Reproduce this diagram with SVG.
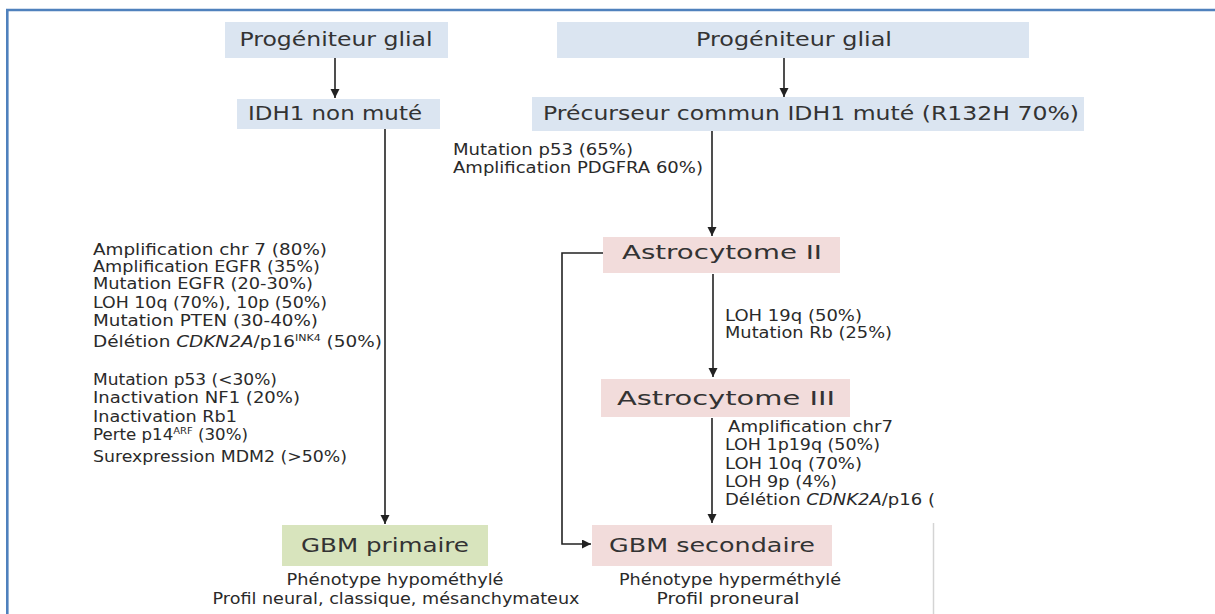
<svg xmlns="http://www.w3.org/2000/svg" width="1215" height="614" viewBox="0 0 1215 614">
<style>
.title{font-family:"DejaVu Sans","Liberation Sans",sans-serif;font-size:19px;fill:#333333;text-anchor:middle}
.small{font-family:"DejaVu Sans","Liberation Sans",sans-serif;font-size:15px;fill:#2a2a2a}
.mid{text-anchor:middle}
.blue{fill:#dbe5f1}
.pink{fill:#f2dcdb}
.green{fill:#d8e4bd}
.conn{stroke:#222;stroke-width:1.6;fill:none}
.frame{stroke:#4f81bd;stroke-width:2.6;fill:none}
</style>
<defs>
<marker id="ah" markerUnits="userSpaceOnUse" markerWidth="10" markerHeight="10" refX="9" refY="4.5" orient="auto">
<path d="M0,0 L9,4.5 L0,9 z" fill="#222"/>
</marker>
</defs>
<rect width="1215" height="614" fill="#ffffff"/>
<g id="frame">
<line class="frame" x1="6" y1="10" x2="1215" y2="10"/>
<line class="frame" x1="7.3" y1="9" x2="7.3" y2="614"/>
<line x1="933.5" y1="523" x2="933.5" y2="614" stroke="#d4d4d4" stroke-width="1.5"/>
</g>
<g id="connectors">
<line class="conn" x1="335" y1="58" x2="335" y2="98" marker-end="url(#ah)"/>
<line class="conn" x1="784" y1="58" x2="784" y2="97" marker-end="url(#ah)"/>
<line class="conn" x1="385" y1="128" x2="385" y2="524" marker-end="url(#ah)"/>
<line class="conn" x1="712" y1="131" x2="712" y2="236" marker-end="url(#ah)"/>
<line class="conn" x1="713" y1="274" x2="713" y2="377" marker-end="url(#ah)"/>
<line class="conn" x1="712" y1="418" x2="712" y2="523" marker-end="url(#ah)"/>
<polyline class="conn" points="603,253 562,253 562,544 591,544" marker-end="url(#ah)"/>
</g>
<g id="prog-left">
<rect class="blue" x="225" y="22" width="223" height="36"/>
<text class="title" x="336" y="46" textLength="193" lengthAdjust="spacingAndGlyphs">Progéniteur glial</text>
</g>
<g id="prog-right">
<rect class="blue" x="557" y="22" width="472" height="36"/>
<text class="title" x="794" y="46" textLength="196" lengthAdjust="spacingAndGlyphs">Progéniteur glial</text>
</g>
<g id="idh1-non-mute">
<rect class="blue" x="237" y="99" width="203" height="30"/>
<text class="title" x="335" y="120" textLength="174" lengthAdjust="spacingAndGlyphs">IDH1 non muté</text>
</g>
<g id="precurseur">
<rect class="blue" x="532" y="97" width="552" height="34"/>
<text class="title" x="811" y="120" textLength="536" lengthAdjust="spacingAndGlyphs">Précurseur commun IDH1 muté (R132H 70%)</text>
</g>
<g id="label-precurseur">
<text class="small" x="453" y="155" textLength="180" lengthAdjust="spacingAndGlyphs">Mutation p53 (65%)</text>
<text class="small" x="453" y="173" textLength="250" lengthAdjust="spacingAndGlyphs">Amplification PDGFRA 60%)</text>
</g>
<g id="astro2">
<rect class="pink" x="603" y="237" width="237" height="36"/>
<text class="title" x="722" y="259" textLength="200" lengthAdjust="spacingAndGlyphs">Astrocytome II</text>
</g>
<g id="label-astro2">
<text class="small" x="725" y="321" textLength="137" lengthAdjust="spacingAndGlyphs">LOH 19q (50%)</text>
<text class="small" x="725" y="338" textLength="167" lengthAdjust="spacingAndGlyphs">Mutation Rb (25%)</text>
</g>
<g id="astro3">
<rect class="pink" x="601" y="379" width="249" height="38"/>
<text class="title" x="726" y="405" textLength="218" lengthAdjust="spacingAndGlyphs">Astrocytome III</text>
</g>
<g id="label-astro3">
<text class="small" x="728" y="432" textLength="165" lengthAdjust="spacingAndGlyphs">Amplification chr7</text>
<text class="small" x="725" y="450" textLength="155" lengthAdjust="spacingAndGlyphs">LOH 1p19q (50%)</text>
<text class="small" x="725" y="469" textLength="137" lengthAdjust="spacingAndGlyphs">LOH 10q (70%)</text>
<text class="small" x="725" y="487" textLength="112" lengthAdjust="spacingAndGlyphs">LOH 9p (4%)</text>
<text class="small" x="725" y="505" textLength="210" lengthAdjust="spacingAndGlyphs">Délétion <tspan font-style="italic">CDNK2A</tspan>/p16 (</text>
</g>
<g id="label-primaire">
<text class="small" x="93" y="255" textLength="234" lengthAdjust="spacingAndGlyphs">Amplification  chr 7 (80%)</text>
<text class="small" x="93" y="272" textLength="227" lengthAdjust="spacingAndGlyphs">Amplification EGFR (35%)</text>
<text class="small" x="93" y="289" textLength="220" lengthAdjust="spacingAndGlyphs">Mutation EGFR (20-30%)</text>
<text class="small" x="93" y="308" textLength="234" lengthAdjust="spacingAndGlyphs">LOH 10q (70%), 10p (50%)</text>
<text class="small" x="93" y="326" textLength="225" lengthAdjust="spacingAndGlyphs">Mutation PTEN (30-40%)</text>
<text class="small" x="93" y="347" textLength="289" lengthAdjust="spacingAndGlyphs">Délétion <tspan font-style="italic">CDKN2A</tspan>/p16<tspan font-size="9" dy="-6">INK4</tspan><tspan dy="6"> (50%)</tspan></text>
<text class="small" x="93" y="385" textLength="184" lengthAdjust="spacingAndGlyphs">Mutation p53 (&lt;30%)</text>
<text class="small" x="93" y="403" textLength="207" lengthAdjust="spacingAndGlyphs">Inactivation NF1 (20%)</text>
<text class="small" x="93" y="422" textLength="144" lengthAdjust="spacingAndGlyphs">Inactivation Rb1</text>
<text class="small" x="93" y="440" textLength="155" lengthAdjust="spacingAndGlyphs">Perte p14<tspan font-size="9" dy="-6">ARF</tspan><tspan dy="6"> (30%)</tspan></text>
<text class="small" x="93" y="462" textLength="254" lengthAdjust="spacingAndGlyphs">Surexpression MDM2 (&gt;50%)</text>
</g>
<g id="gbm-primaire">
<rect class="green" x="282" y="525" width="206" height="41"/>
<text class="title" x="385" y="552" textLength="168" lengthAdjust="spacingAndGlyphs">GBM primaire</text>
<text class="small mid" x="395" y="585" textLength="217" lengthAdjust="spacingAndGlyphs">Phénotype hypométhylé</text>
<text class="small mid" x="396" y="604" textLength="367" lengthAdjust="spacingAndGlyphs">Profil neural, classique, mésanchymateux</text>
</g>
<g id="gbm-secondaire">
<rect class="pink" x="592" y="525" width="240" height="41"/>
<text class="title" x="712" y="552" textLength="206" lengthAdjust="spacingAndGlyphs">GBM secondaire</text>
<text class="small mid" x="730" y="585" textLength="222" lengthAdjust="spacingAndGlyphs">Phénotype hyperméthylé</text>
<text class="small mid" x="728" y="604" textLength="143" lengthAdjust="spacingAndGlyphs">Profil proneural</text>
</g>
</svg>
